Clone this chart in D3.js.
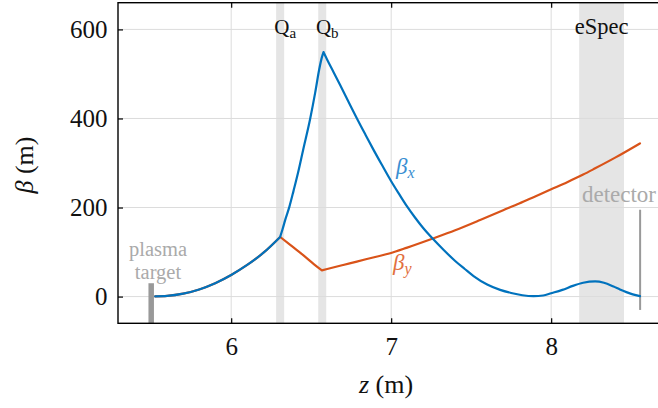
<!DOCTYPE html>
<html>
<head>
<meta charset="utf-8">
<script src="https://cdn.jsdelivr.net/npm/d3@7"></script>
<style>
  body { margin: 0; background: #fff; }
  svg { display: block; }
</style>
</head>
<body>
<svg id="chart" width="658" height="408"></svg>
<script>
// ---------- data ----------
const xTicks = [6, 7, 8];
const yTicks = [0, 200, 400, 600];

// horizontal beta
const betaXz = [5.525, 5.6, 5.7, 5.8, 5.9, 6.0, 6.1, 6.2, 6.306, 6.32, 6.34, 6.364, 6.39, 6.417, 6.45, 6.494,
    6.525, 6.55, 6.565, 6.577, 6.6, 6.64, 6.681, 6.73, 6.786, 6.84, 6.889, 6.94, 7.0, 7.05, 7.098, 7.15,
    7.2, 7.265, 7.33, 7.4, 7.46, 7.515, 7.6, 7.681, 7.75, 7.82, 7.89, 7.95, 8.0, 8.07, 8.135, 8.2, 8.275,
    8.33, 8.39, 8.43, 8.47, 8.51, 8.555];
const betaX = [0.5, 1.5, 6.5, 16, 30, 48.5, 71, 98, 134, 150, 175, 202, 238, 277, 330, 400,
    458, 510, 535, 549, 532, 504, 475, 440, 400, 363, 330, 297, 259, 230, 203, 177,
    154, 128, 104, 80, 62, 46, 27, 15, 8, 3, 1, 2.5, 7.5, 15, 24, 31, 34,
    31, 22.5, 16, 10, 5, 1];
const betaXKinks = [6.306, 6.577];

// vertical beta
const betaYz = [5.525, 5.6, 5.7, 5.8, 5.9, 6.0, 6.1, 6.2, 6.306, 6.369, 6.45, 6.52, 6.567, 6.6, 6.7,
    6.785, 6.9, 6.994, 7.1, 7.265, 7.4, 7.556, 7.7, 7.8, 7.9, 8.0, 8.1, 8.2, 8.275, 8.4, 8.555];
const betaY = [0.5, 1.5, 6.5, 16, 30, 48.5, 71, 98, 134, 116, 93, 72, 59, 62, 71,
    78.6, 89, 97.4, 110, 131, 149, 172, 194, 209, 225, 241, 257, 274, 288, 312, 344];
const betaYKinks = [6.306, 6.567];

// shaded elements
const bandStart = [6.281, 6.544, 8.175];
const bandEnd = [6.331, 6.594, 8.455];
const bandNames = ["Q", "Q", "eSpec"];
const bandSubs = ["a", "b", ""];

// plasma target and detector (z, beta top, beta bottom)
const targetZ = 5.5, targetTop = 30, targetBottom = -60;
const detectorZ = 8.556, detectorTop = 195, detectorBottom = -30;

// ---------- layout ----------
const FONT = "Liberation Serif";
const svg = d3.select("#chart").attr("font-family", FONT);
const plot = { left: 118, right: 659, top: 2.7, bottom: 323.3 };

const x = d3.scaleLinear().domain([5.2925, 8.674]).range([plot.left, plot.right]);
const y = d3.scaleLinear().domain([-60, 660]).range([plot.bottom, plot.top]);

const blue = "#0072bd", orange = "#d95319", grey = "#999";

// shaded bands
svg.append("g").selectAll("rect")
    .data(bandStart)
    .enter()
    .append("rect")
    .attr("x", d => x(d))
    .attr("y", plot.top)
    .attr("width", (d, i) => x(bandEnd[i]) - x(d))
    .attr("height", plot.bottom - plot.top)
    .attr("fill", "#e5e5e5");

// grid
const grid = svg.append("g").attr("stroke", "#dcdcdc").attr("stroke-width", 1);
grid.selectAll(".gx").data(xTicks).enter().append("line")
    .attr("x1", d => x(d)).attr("x2", d => x(d))
    .attr("y1", plot.top).attr("y2", plot.bottom);
grid.selectAll(".gy").data(yTicks).enter().append("line")
    .attr("x1", plot.left).attr("x2", plot.right)
    .attr("y1", d => y(d)).attr("y2", d => y(d));

// band labels
const bl = svg.append("g").attr("fill", "#111");
bandNames.forEach((name, i) => {
    const cx = (x(bandStart[i]) + x(bandEnd[i])) / 2;
    const t = bl.append("text")
        .attr("x", cx + (bandSubs[i] ? 5 : 0))
        .attr("y", 34)
        .attr("text-anchor", "middle");
    if (bandSubs[i]) {
        t.attr("font-size", 21).text(name);
        t.append("tspan").attr("font-size", 15).attr("dy", 4).text(bandSubs[i]);
    } else {
        t.attr("font-size", 22.5).text(name);
    }
});

// plasma target
svg.append("line")
    .attr("x1", x(targetZ)).attr("x2", x(targetZ))
    .attr("y1", y(targetTop)).attr("y2", y(targetBottom))
    .attr("stroke", grey).attr("stroke-width", 5.5);
svg.append("text").attr("x", 158).attr("y", 256).attr("text-anchor", "middle")
    .attr("font-size", 20.5).attr("fill", "#aaa").text("plasma");
svg.append("text").attr("x", 158).attr("y", 279).attr("text-anchor", "middle")
    .attr("font-size", 20.5).attr("fill", "#aaa").text("target");

// detector
svg.append("line")
    .attr("x1", x(detectorZ)).attr("x2", x(detectorZ))
    .attr("y1", y(detectorTop)).attr("y2", y(detectorBottom))
    .attr("stroke", grey).attr("stroke-width", 2);
svg.append("text").attr("x", 656).attr("y", 202).attr("text-anchor", "end")
    .attr("font-size", 23).attr("fill", "#aaa").text("detector");

// curves: smooth between kinks, sharp at the quadrupoles
const line = d3.line()
    .x(d => x(d[0]))
    .y(d => y(d[1]))
    .curve(d3.curveMonotoneX);

function kinkedPath(zs, bs, kinks) {
    const pts = d3.zip(zs, bs);
    const edges = [zs[0], ...kinks, zs[zs.length - 1]];
    let d = "";
    for (let k = 0; k < edges.length - 1; k++) {
        const seg = pts.filter(p => p[0] >= edges[k] && p[0] <= edges[k + 1]);
        d += line(seg);
    }
    return d;
}

svg.append("path")
    .attr("d", kinkedPath(betaYz, betaY, betaYKinks))
    .attr("fill", "none")
    .attr("stroke", orange)
    .attr("stroke-width", 2.2)
    .attr("stroke-linecap", "round");

svg.append("path")
    .attr("d", kinkedPath(betaXz, betaX, betaXKinks))
    .attr("fill", "none")
    .attr("stroke", blue)
    .attr("stroke-width", 2.2)
    .attr("stroke-linecap", "round");

// curve labels
const lx = svg.append("text").attr("x", 396).attr("y", 174)
    .attr("font-size", 23).attr("font-style", "italic").attr("fill", "#3a8fd2").text("β");
lx.append("tspan").attr("font-size", 16).attr("dy", 4).text("x");
const ly = svg.append("text").attr("x", 393).attr("y", 270)
    .attr("font-size", 23).attr("font-style", "italic").attr("fill", "#e2703e").text("β");
ly.append("tspan").attr("font-size", 16).attr("dy", 4).text("y");

// axes (ticks inside)
const xAxis = svg.append("g")
    .attr("transform", "translate(0," + plot.bottom + ")")
    .call(d3.axisBottom(x).tickValues(xTicks).tickSize(-5).tickFormat(d3.format("d")));
xAxis.selectAll("text").attr("dy", null).attr("y", 32).attr("font-size", 25).attr("fill", "#111");

svg.append("g")
    .attr("transform", "translate(0," + plot.top + ")")
    .call(d3.axisTop(x).tickValues(xTicks).tickSize(-5).tickFormat(""));

const yAxis = svg.append("g")
    .attr("transform", "translate(" + plot.left + ",0)")
    .call(d3.axisLeft(y).tickValues(yTicks).tickSize(-5).tickPadding(10.5));
yAxis.selectAll("text").attr("font-size", 25).attr("fill", "#111");

// d3 axes put their own font family on the group
svg.selectAll("g").attr("font-family", FONT);
svg.selectAll(".domain").remove();
svg.selectAll(".tick line").attr("stroke", "#000").attr("stroke-width", 1.2);

// frame
svg.append("rect")
    .attr("x", plot.left).attr("y", plot.top)
    .attr("width", plot.right - plot.left).attr("height", plot.bottom - plot.top)
    .attr("fill", "none").attr("stroke", "#000").attr("stroke-width", 1.4);

// axis titles
const xt = svg.append("text").attr("x", 386).attr("y", 393).attr("text-anchor", "middle")
    .attr("font-size", 26).attr("fill", "#111");
xt.append("tspan").attr("font-style", "italic").text("z");
xt.append("tspan").text(" (m)");

const yt = svg.append("text")
    .attr("transform", "translate(33,165) rotate(-90)")
    .attr("text-anchor", "middle")
    .attr("font-size", 26).attr("fill", "#111");
yt.append("tspan").attr("font-style", "italic").text("β");
yt.append("tspan").text(" (m)");
</script>
</body>
</html>
